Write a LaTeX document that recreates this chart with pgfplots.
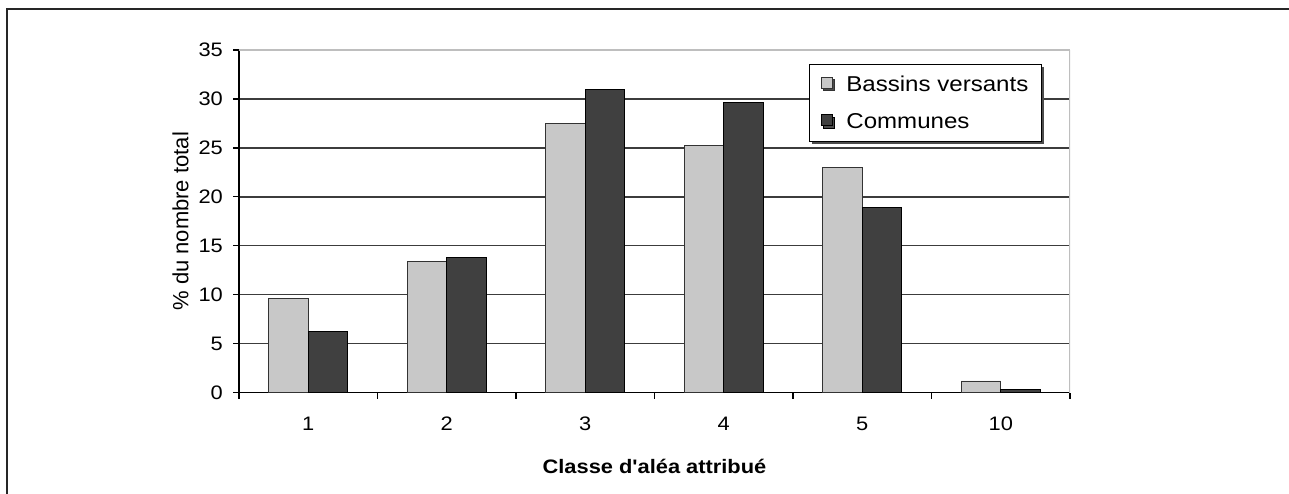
\documentclass[border=0pt]{standalone}
\usepackage{fontspec}
\setmainfont{Liberation Sans}
\newfontfamily\wide[FakeStretch=1.12]{Liberation Sans}
\usepackage{pgfplots}
\pgfplotsset{compat=1.18}
\usetikzlibrary{shadows}

\definecolor{lightbar}{RGB}{200,200,200}
\definecolor{darkbar}{RGB}{64,64,64}
\definecolor{gridc}{RGB}{60,60,60}
\definecolor{borderc}{RGB}{190,190,190}

\pgfplotsset{sqlegend/.style={legend image code/.code={%
    \draw[##1, line width=0.8bp] (0bp,-4bp) rectangle (11bp,7bp);}}}

\begin{document}
\begin{tikzpicture}
% outer frame (top and left only)
\draw[line width=2bp, black!85] (6.5bp,0) -- (6.5bp,485bp) -- (1289bp,485bp);
\begin{axis}[
    at={(239bp,101.3bp)}, anchor=south west,
    scale only axis, width=831bp, height=342.7bp,
    xmin=-0.5, xmax=5.5, ymin=0, ymax=35,
    axis x line*=bottom, axis y line*=left,
    axis line style={black, line width=1.2bp, -},
    ytick={0,5,...,30},
    extra y ticks={35},
    extra y tick style={major grid style={borderc, line width=1.2bp}},
    ymajorgrids=true,
    grid style={gridc, line width=1.3bp},
    xtick={-0.5,0.5,...,5.5}, xticklabels={},
    extra x ticks={0,...,5},
    extra x tick labels={1,2,3,4,5,10},
    extra x tick style={major tick length=0pt},
    tick align=outside, major tick length=6bp,
    tick style={black, line width=1.2bp},
    /pgf/number format/assume math mode=true,
    tick label style={font=\wide\fontsize{19.5bp}{22bp}\selectfont},
    yticklabel style={inner sep=0pt, xshift=-10bp},
    xticklabel style={inner sep=0pt, yshift=-24bp},
    ylabel={\% du nombre total},
    ylabel style={font=\fontsize{22bp}{26bp}\selectfont,
        at={(axis description cs:-0.0704,0.5)}, anchor=center},
    xlabel={\textbf{Classe d'aléa attribué}},
    xlabel style={font=\wide\fontsize{19.5bp}{22bp}\selectfont,
        at={(axis description cs:0.5,-0.2154)}, anchor=center},
    legend style={at={(rel axis cs:0.686,0.959)}, anchor=north west,
        draw=black, line width=1bp, fill=white,
        font=\wide\fontsize{21.5bp}{25bp}\selectfont,
        inner xsep=11bp, inner ysep=9bp, row sep=17bp,
        /tikz/every odd column/.append style={column sep=12bp},
        drop shadow={shadow xshift=2.5bp, shadow yshift=-2.5bp,
            fill=black!70, opacity=1}},
    legend cell align=left,
]
% Bassins versants
\addplot[ybar, bar width=0.285, bar shift=-0.1425,
    fill=lightbar, draw=black!80, line width=0.8bp, sqlegend]
    coordinates {(0,9.6)(1,13.4)(2,27.5)(3,25.25)(4,23.0)(5,1.2)};
% Communes
\addplot[ybar, bar width=0.285, bar shift=0.1425,
    fill=darkbar, draw=black, line width=0.8bp, sqlegend]
    coordinates {(0,6.3)(1,13.8)(2,31.0)(3,29.6)(4,18.9)(5,0.3)};
\legend{Bassins versants, Communes}
\draw[borderc, line width=1.2bp] (rel axis cs:1,0) -- (rel axis cs:1,1);
\end{axis}
\pgfresetboundingbox
\path[use as bounding box] (0,0) rectangle (1289bp,494bp);
\end{tikzpicture}
\end{document}
